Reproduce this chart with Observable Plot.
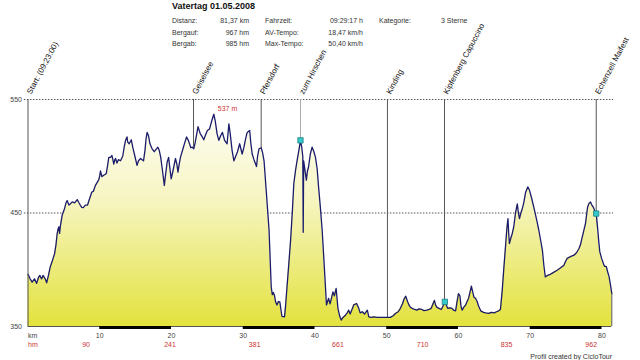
<!DOCTYPE html>
<html><head><meta charset="utf-8">
<script src="https://cdn.jsdelivr.net/npm/d3@7"></script>
<script src="https://cdn.jsdelivr.net/npm/@observablehq/plot@0.6"></script>
<style>
body{margin:0;background:#fff;font-family:"Liberation Sans",Arial,sans-serif;}
#wrap{position:relative;width:640px;height:360px;overflow:hidden}
#chart{position:absolute;left:0;top:0}
.t{position:absolute;font-size:7px;color:#333;white-space:nowrap;line-height:7px}
#title{position:absolute;left:172px;top:2px;font-size:9px;font-weight:bold;color:#111;white-space:nowrap;line-height:9px}
</style></head><body>
<div id="wrap"><div id="chart"></div><div id="title"></div></div>
<script>
// ---- data ----
const titleText = "Vatertag 01.05.2008";
const statLabels1 = ["Distanz:", "Bergauf:", "Bergab:"];
const statValues1 = ["81,37 km", "967 hm", "985 hm"];
const statLabels2 = ["Fahrzeit:", "AV-Tempo:", "Max-Tempo:"];
const statValues2 = ["09:29:17 h", "18,47 km/h", "50,40 km/h"];
const statLabels3 = ["Kategorie:"];
const statValues3 = ["3 Sterne"];
const footerText = "Profil created by CicloTour";

const profileKm = [0,0.3,0.58,0.9,1.2,1.45,1.65,1.9,2.1,2.4,2.6,2.85,3.1,3.4,3.7,3.9,4.07,4.2,4.3,4.4,4.5,4.76,5.1,5.3,5.46,5.7,5.9,6.16,6.5,6.86,7.1,7.3,7.5,7.7,8.0,8.3,8.5,8.9,9.1,9.4,9.87,10.0,10.1,10.3,10.5,10.9,11.1,11.26,11.5,11.7,11.96,12.1,12.2,12.4,12.6,12.9,13.2,13.45,13.6,13.8,13.9,14.1,14.4,14.6,14.9,15.2,15.4,15.7,15.9,16.1,16.3,16.45,16.6,16.8,17.0,17.3,17.6,17.85,18.1,18.3,18.5,18.8,19.0,19.2,19.4,19.6,19.8,19.96,20.2,20.55,20.75,20.9,21.1,21.25,21.6,21.85,22.1,22.35,22.7,22.9,23.1,23.3,23.7,23.85,24.0,24.3,24.5,24.7,25.0,25.3,25.6,25.9,26.1,26.35,26.6,26.85,27.1,27.4,27.75,28.0,28.2,28.45,28.7,28.95,29.2,29.5,29.85,30.1,30.35,30.55,30.9,31.05,31.25,31.5,31.85,32.0,32.2,32.5,32.7,32.9,33.2,33.6,33.9,34.05,34.2,34.35,34.5,34.7,34.9,35.1,35.25,35.4,35.75,35.9,36.1,36.35,36.6,36.85,37.05,37.3,37.5,37.75,37.98,38.15,38.3,38.36,38.42,38.6,38.8,38.95,39.1,39.35,39.6,39.85,40.07,40.3,40.5,40.75,41.0,41.25,41.46,41.6,41.75,41.9,42.1,42.3,42.5,42.7,42.95,43.2,43.45,43.65,43.9,44.25,44.5,44.7,44.9,45.1,45.4,45.8,46.1,46.3,46.6,46.9,47.3,47.5,47.8,48.2,48.7,49.1,49.8,50.5,50.9,51.2,51.6,51.9,52.2,52.4,52.65,52.9,53.1,53.3,53.55,53.9,54.2,54.5,54.9,55.2,55.6,55.9,56.2,56.45,56.65,56.8,57.0,57.3,57.6,57.85,58.1,58.3,58.5,58.8,59.1,59.3,59.6,59.8,60.0,60.2,60.35,60.5,60.75,61.0,61.2,61.4,61.6,61.8,62.0,62.15,62.4,62.6,62.8,63.1,63.5,63.8,64.2,64.6,65.0,65.3,65.6,65.85,66.1,66.3,66.55,66.75,66.9,67.0,67.1,67.3,67.5,67.7,67.95,68.2,68.35,68.5,68.7,68.9,69.1,69.35,69.66,69.9,70.2,70.6,70.9,71.2,71.45,71.7,71.9,72.1,72.4,72.8,73.2,73.75,74.2,74.7,74.9,75.15,75.6,76.1,76.45,76.8,77.0,77.2,77.45,77.7,77.85,78.0,78.2,78.4,78.6,78.8,79.0,79.2,79.4,79.55,79.7,79.95,80.2,80.35,80.6,80.8,81.0,81.2,81.37];
const profileElev = [396,392,389,392,388,393,395,392,395,392,388.5,395,402.5,408,414,422,432,436,437.7,432,438,448,454,459,461,457,458,459.7,459,461.8,459,456.8,455,454.7,457,457,461,468.5,469,474.4,479.4,483,487,482,483,484.6,492,499,499,500.7,493,497,498,494,497,496,500,509.5,514,517,512.5,511,514.5,508,500,492,496,498,497,496,505,515,521,518,511,506.6,504,506,508,505,499,484.6,474.4,485,495,499,488,480,487,498,493,486,494,499,506.6,512,517,514,507.5,508,506.6,512,526,523,520,517,514.5,518,522.7,524,531,537,531,520,514,518,521,514,511,528.6,519,505,496,500,504,511,502,508,516,521,522.7,512,502,497,491,500,506.6,507.5,503,496,470,434.8,385,378,380,377.6,372,369,372,371.7,365,359,358.5,368,385,405,426,452,476,488,496,505,514,508,500,433,496,488,479,487,490.5,502,508,504,499,489,473,455,435,408,385,369,372,374.7,370,375,380.5,377,383.5,366,359,355.6,358,360,362,364.4,361,364,369,370.3,366,362,363,361,364.4,358.5,358,358.5,358,358,358,358,359.5,361.5,363,366,370,374,376.7,372,369,367,366,365,364.4,365.5,365,364,364.4,365,366,370,373,369,366.8,366,365,368,371.7,369,366,366.5,366,364.5,363.8,372,379,377,368,364.4,367,369,372,374.7,380,385.5,380,376,374.7,372,368,363.8,362.5,362,361.5,362.5,362,363,363.8,365,382,399.6,420,437,445,432,423,428,432,437.7,450,458,450,445,450,454,459,468,473,470,463,452.4,444,434.8,426,417,404,393.7,395,396,397.5,399.6,401.5,404,407,410,411.5,412.8,415,418.7,422,427.5,434,440.7,448,455.3,458.5,459.7,457,455,452,449.5,436.3,425,415.7,410,405.5,403,403,398,393.7,386,379];

const wpNames = ["Start: (09:23:00)", "Geiselsee", "Pfersdorf", "zum Hirschen", "Kinding", "Kipfenberg Capuccino", "Echenzell Maifest"];
const wpKm = [0, 23.07, 32.5, 37.98, 50.1, 58.05, 79.2];
const markerKm = [37.98, 58.1, 79.2];
const markerElev = [514, 371.7, 449.5];
const yTicks = [550, 450, 350];
const gridElev = [550, 450];
const kmTicks = [10, 20, 30, 40, 50, 60, 70, 80];
const barStarts = [10, 30, 50, 70];
const hmKm = [8.1, 19.8, 31.6, 43.2, 55.0, 66.7, 78.5];
const hmValues = ["90", "241", "381", "661", "710", "835", "962"];
const maxKm = 25.9, maxElev = 537, maxLabel = "537 m";
const totalKm = 81.37;

// ---- build ----
const profile = profileKm.map((k, i) => ({km: k, elev: profileElev[i]}));
const waypoints = wpNames.map((n, i) => ({name: n, km: wpKm[i]}));
const markers = markerKm.map((k, i) => ({km: k, elev: markerElev[i]}));
const hm = hmKm.map((k, i) => ({km: k, label: hmValues[i]}));
const font = "Liberation Sans, Arial, sans-serif";

const defsMark = (index, scales) => {
  const ns = "http://www.w3.org/2000/svg";
  const defs = document.createElementNS(ns, "defs");
  let attrs = 'x1="0" y1="0" x2="0" y2="1"';
  if (scales && scales.y) attrs = `gradientUnits="userSpaceOnUse" x1="0" x2="0" y1="${scales.y(550)}" y2="${scales.y(350)}"`;
  defs.innerHTML = `<linearGradient id="elevGrad" ${attrs}><stop offset="0" stop-color="#ffffff"/><stop offset="0.45" stop-color="#f6f5c0"/><stop offset="1" stop-color="#e3e23e"/></linearGradient>`;
  return defs;
};

const chart = Plot.plot({
  width: 640, height: 360,
  marginLeft: 27.5, marginRight: 28.7, marginTop: 99, marginBottom: 34,
  x: {domain: [0, totalKm], axis: null},
  y: {domain: [350, 550], axis: null},
  style: {fontFamily: font, background: "white", overflow: "visible"},
  marks: [
    defsMark,
    Plot.ruleY(gridElev, {y: d => d, x1: -0.5, x2: totalKm + 0.25, stroke: "#555", strokeDasharray: "1.5,1.5", strokeWidth: 1}),
    Plot.ruleX(waypoints.filter(d => d.km > 0), {x: "km", y1: 550, y2: 350, stroke: d => d.name === "zum Hirschen" ? "#aaa" : "#555", strokeWidth: 1}),
    Plot.areaY(profile, {x: "km", y1: 350, y2: "elev", fill: "url(#elevGrad)"}),
    Plot.line(profile, {x: "km", y: "elev", stroke: "#1b1b6b", strokeWidth: 1.3}),
    Plot.ruleX([0], {y1: 550, y2: 350, stroke: "#555"}),
    Plot.ruleX([totalKm], {y1: 350, y2: profileElev[profileElev.length - 1], stroke: "#555"}),
    Plot.ruleY([350], {x1: 0, x2: totalKm, stroke: "#555"}),
    Plot.ruleY(barStarts, {y: 350, x1: d => d, x2: d => d + 10, stroke: "#000", strokeWidth: 3, dy: 1}),
    Plot.dot(markers, {x: "km", y: "elev", symbol: "square", r: 3, fill: "#33cccc", stroke: "#1f7f7f", strokeWidth: 0.8}),
    Plot.text(waypoints, {x: "km", y: 550, text: "name", rotate: -62, textAnchor: "start", dx: 1, dy: -6, fontSize: 8, fill: "#111"}),
    Plot.text(yTicks, {x: 0, y: d => d, text: d => String(d), textAnchor: "end", dx: -6, fontSize: 7, fill: "#444"}),
    Plot.text(kmTicks, {x: d => d, y: 350, text: d => String(d), dy: 9, fontSize: 7, fill: "#444"}),
    Plot.text(["km"], {x: 0, y: 350, text: d => d, textAnchor: "start", dy: 9, fontSize: 7, fill: "#444"}),
    Plot.text(hm, {x: "km", y: 350, text: "label", dy: 18, fontSize: 7, fill: "#cc3333"}),
    Plot.text(["hm"], {x: 0, y: 350, text: d => d, textAnchor: "start", dy: 18, fontSize: 7, fill: "#cc3333"}),
    Plot.text([maxLabel], {x: maxKm, y: maxElev, text: d => d, textAnchor: "start", dx: 4, dy: -6, fontSize: 7, fill: "#cc3333"})
  ]
});
document.getElementById("chart").appendChild(chart);

// header & footer
const wrap = document.getElementById("wrap");
document.getElementById("title").textContent = titleText;
function addText(txt, left, top, align) {
  const d = document.createElement("div");
  d.className = "t";
  d.textContent = txt;
  d.style.top = top + "px";
  if (align === "right") d.style.right = (640 - left) + "px"; else d.style.left = left + "px";
  wrap.appendChild(d);
}
const rowTops = [16.5, 28.5, 39.5];
statLabels1.forEach((t, i) => addText(t, 172, rowTops[i]));
statValues1.forEach((t, i) => addText(t, 249, rowTops[i], "right"));
statLabels2.forEach((t, i) => addText(t, 265, rowTops[i]));
statValues2.forEach((t, i) => addText(t, 363, rowTops[i], "right"));
statLabels3.forEach((t, i) => addText(t, 379, rowTops[i]));
statValues3.forEach((t, i) => addText(t, 441, rowTops[i]));
addText(footerText, 612, 352.5, "right");
</script>
</body></html>
